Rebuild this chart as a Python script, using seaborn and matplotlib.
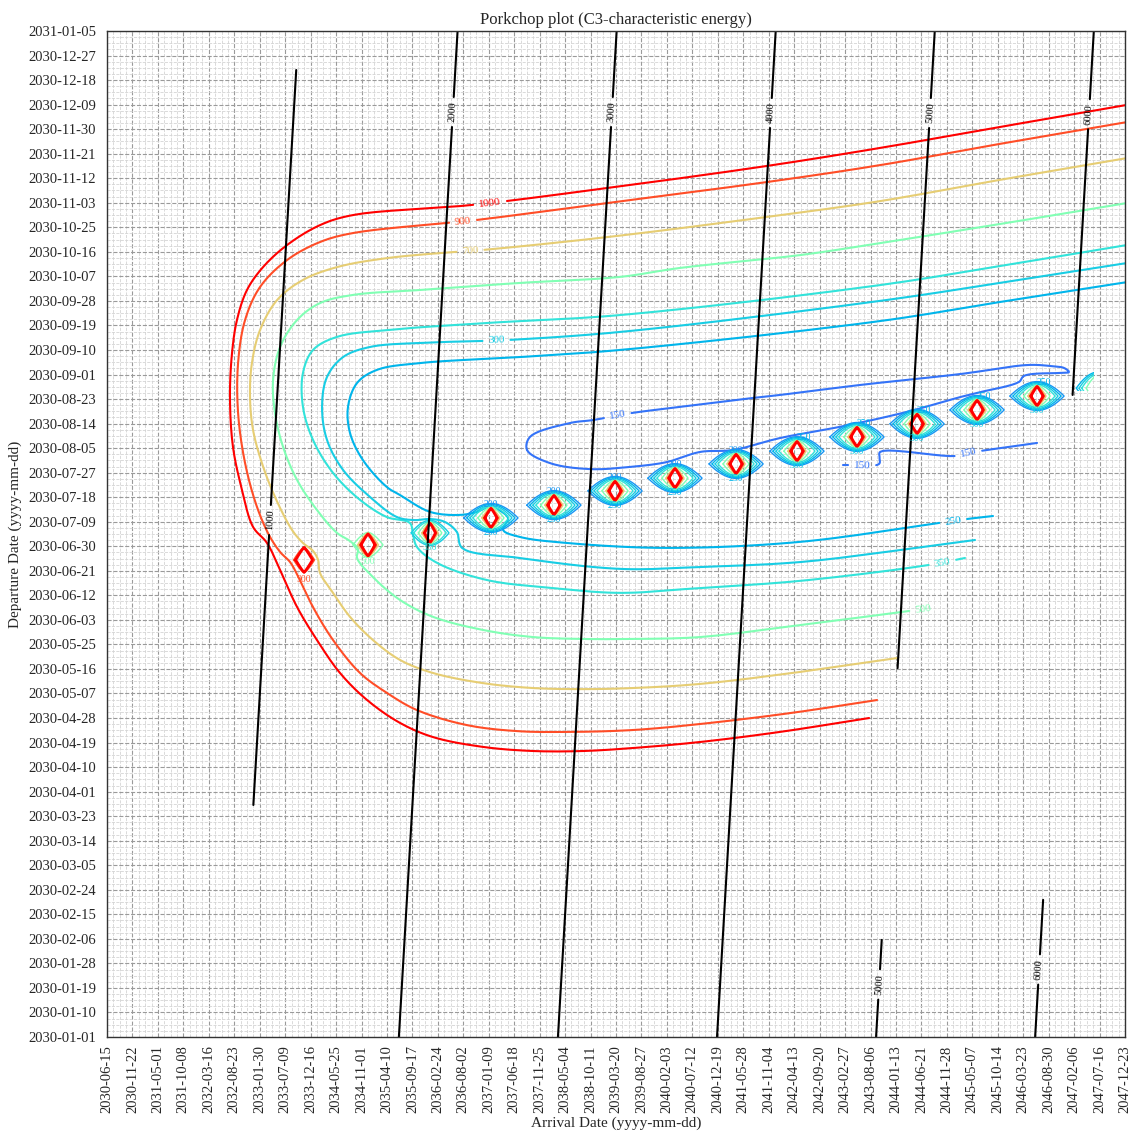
import numpy as np
import pandas as pd
import matplotlib
matplotlib.use("Agg")
import matplotlib.pyplot as plt
import seaborn as sns
from matplotlib.ticker import FixedLocator, FixedFormatter
from matplotlib.patches import Rectangle

# ---------------------------------------------------------------------------
# Data: all coordinates are in days since 2030-01-01
#   arrival  -> x axis, departure -> y axis
# ---------------------------------------------------------------------------
EPOCH = pd.Timestamp("2030-01-01")
ARRIVAL_TICKS = pd.date_range("2030-06-15", periods=41, freq="160D")
DEPARTURE_TICKS = pd.date_range("2030-01-01", periods=42, freq="9D")

# C3 contour lines (km^2/s^2)
C3_1000_ARR = [4956, 4396, 3893, 3472, 3158, 2843, 2529, 2215, 2007, 1800, 1630, 1485,
               1360, 1253, 1171, 1083, 1014, 957, 938, 951, 982, 1045, 1146, 1297,
               1504, 1712, 2460, 3309, 4314, 5025, 5779, 6578]
C3_1000_DEP = [117.0, 111.9, 108.2, 106.0, 104.9, 104.9, 106.4, 110.0, 115.2, 123.6, 133.5, 145.6,
               157.7, 171.3, 181.2, 187.1, 200.6, 216.4, 234.8, 250.9, 263.0, 274.0, 282.4, 290.5,
               297.8, 301.5, 305.2, 311.4, 319.5, 326.1, 333.8, 341.9]

C3_900_ARR = [5006, 4459, 3893, 3472, 3057, 2743, 2428, 2114, 1925, 1756, 1586, 1460,
              1378, 1316, 1259, 1190, 1108, 1033, 989, 989, 1033, 1127, 1297, 1504,
              1712, 2303, 2491, 3309, 4314, 5025, 5779, 6578]
C3_900_DEP = [123.6, 118.8, 114.8, 112.6, 111.9, 112.2, 114.4, 119.9, 126.2, 133.5, 145.6, 157.7,
              167.6, 174.2, 177.5, 183.4, 194.4, 210.5, 228.9, 247.2, 263.0, 275.1, 285.0, 291.6,
              294.9, 298.6, 299.7, 305.9, 313.6, 319.8, 327.6, 335.6]

C3_700_ARR = [5132, 4522, 3893, 3472, 3158, 2843, 2529, 2215, 2007, 1837, 1693, 1586,
              1504, 1492, 1460, 1397, 1328, 1221, 1139, 1083, 1064, 1076, 1127, 1234,
              1397, 1611, 1925, 2340, 2529, 3309, 4314, 5025, 5779, 6578]
C3_700_DEP = [139.0, 133.9, 129.5, 128.0, 127.6, 128.0, 129.8, 133.5, 138.3, 145.6, 154.1, 162.9,
              170.2, 175.0, 178.3, 181.2, 186.0, 198.1, 210.5, 222.7, 234.8, 247.2, 259.3, 270.3,
              277.7, 282.4, 285.7, 287.9, 288.7, 293.4, 300.8, 306.6, 314.4, 322.4]

C3_500_ARR = [5383, 5213, 4522, 3893, 3472, 3158, 2843, 2529, 2215, 2007, 1837, 1737,
              1743, 1693, 1611, 1485, 1360, 1272, 1221, 1209, 1253, 1360, 1504, 1712,
              2133, 2762, 3390, 3768, 4522, 5025, 5779, 6578]
C3_500_DEP = [157.7, 156.3, 151.1, 146.7, 146.0, 146.0, 146.7, 149.3, 154.1, 160.3, 168.7, 175.7,
              179.0, 181.9, 184.9, 193.3, 204.3, 216.4, 228.9, 241.0, 253.1, 263.0, 269.2, 272.2,
              274.0, 276.6, 278.8, 282.1, 286.8, 291.2, 298.2, 305.9]

C3_350_ARR = [5559, 5327, 4522, 3893, 3390, 2969, 2554, 2240, 2114, 2089, 2070, 1925,
              1756, 1586, 1460, 1397, 1397, 1460, 1611, 1925, 2554, 3390, 5025, 5779, 6578]
C3_350_DEP = [175.7, 173.1, 167.3, 164.7, 162.9, 164.7, 167.6, 173.9, 179.7, 184.1, 188.5, 190.7,
              197.0, 206.9, 219.0, 231.1, 243.6, 252.0, 256.8, 259.3, 261.9, 264.8, 275.8, 282.8, 290.5]

C3_300_ARR = [5622, 5151, 4522, 3893, 3390, 2762, 2397, 2365, 2290, 2196, 2101, 1988,
              1818, 1649, 1548, 1517, 1548, 1649, 1818, 2133, 2523, 2699, 3390, 5025, 5779, 6578]
C3_300_DEP = [182.3, 178.6, 174.2, 172.4, 171.7, 175.7, 179.4, 185.2, 188.9, 190.0, 189.6, 190.7,
              198.1, 208.0, 219.0, 231.1, 242.1, 249.4, 253.1, 254.6, 255.3, 255.7, 258.6, 270.0, 276.6, 283.9]

C3_250_ARR = [5735, 5572, 5390, 4522, 3686, 3057, 2762, 2655, 2686, 2573, 2491, 2384,
              2196, 2007, 1925, 1774, 1693, 1680, 1737, 1862, 2133, 2762, 3390, 5025, 5779, 6578]
C3_250_DEP = [191.1, 190.0, 188.5, 181.6, 179.4, 181.2, 183.4, 186.0, 190.4, 194.4, 192.6, 191.5,
              192.6, 198.8, 201.7, 211.6, 221.5, 231.1, 239.9, 244.7, 247.2, 249.4, 252.0, 262.6, 269.6, 276.9]

C3_150_ARR = [2806, 2824, 3076, 3220, 3466, 3768, 4226, 4396, 4905, 5534, 5955, 6100,
              6182, 6213, 6163, 5930, 5899, 5660, 5534, 5195, 4798, 4396, 4101, 3893,
              3686, 3453, 3202, 2950, 2806]
C3_150_DEP = [215.3, 220.1, 225.2, 226.3, 228.9, 231.1, 234.4, 235.5, 239.2, 243.2, 246.5, 246.1,
              245.4, 243.9, 243.6, 242.5, 240.3, 236.6, 234.8, 229.3, 224.1, 219.7, 215.3, 214.6,
              210.9, 209.1, 208.3, 210.5, 215.3]

C3_150B_ARR = [4792, 5019, 5022, 5025, 5496, 5578, 6012]
C3_150B_DEP = [209.8, 210.2, 212.5, 214.6, 213.1, 214.2, 217.9]

# (level, arrival array, departure array, label positions)
C3_LINES = [
    (1000, C3_1000_ARR, C3_1000_DEP, [(2573, 305.5)]),
    (900, C3_900_ARR, C3_900_DEP, [(2403, 299.3)]),
    (700, C3_700_ARR, C3_700_DEP, [(2447, 288.7)]),
    (500, C3_500_ARR, C3_500_DEP, [(5295, 157.4)]),
    (350, C3_350_ARR, C3_350_DEP, [(5415, 174.2)]),
    (300, C3_300_ARR, C3_300_DEP, [(2611, 255.7)]),
    (250, C3_250_ARR, C3_250_DEP, [(5484, 189.3)]),
    (150, C3_150_ARR, C3_150_DEP, [(3378, 227.4)]),
    (150, C3_150B_ARR, C3_150B_DEP, [(4912, 210.2), (5578, 214.2)]),
]

# Local C3 maxima ("eyes") along the minimum-energy valley
EYE_ARR = [1404, 1806, 2196, 2579, 2975, 3359, 3736, 4120, 4503, 4880, 5258, 5635, 6012, 6395]
EYE_DEP = [175.0, 180.5, 184.9, 190.4, 195.1, 200.3, 205.0, 210.2, 214.9, 220.1, 224.9, 230.0, 235.1, 238.0]
EYE_MIN_LEVEL = [900, 500, 300, 200, 200, 200, 200, 200, 200, 200, 200, 200, 200, 250]
EYE_MAX_LEVEL = [1000, 1000, 1000, 1000, 1000, 1000, 1000, 1000, 1000, 1000, 1000, 1000, 1000, 500]
EYE_WIDTH_SCALE = [1.4, 1.15, 0.9, 1, 1, 1, 1, 1, 1, 1, 1, 1, 1, 0.9]
EYE_HEIGHT_SCALE = [1.3, 1.15, 1.0, 1, 1, 1, 1, 1, 1, 1, 1, 1, 1, 1.2]
EYE_TOP_LABEL = [0, 0, 0, 200, 200, 200, 200, 200, 250, 250, 250, 250, 250, 0]
EYE_BOTTOM_LABEL = [900, 500, 350, 250, 250, 250, 250, 250, 300, 300, 300, 300, 300, 0]
# ring sizes of a single eye: half width / half height in days
EYE_LEVELS = [200, 250, 300, 350, 500, 700, 900, 1000]
EYE_HALF_WIDTH = [170, 151, 132, 113, 82, 57, 47, 38]
EYE_HALF_HEIGHT = [5.3, 4.95, 4.6, 4.2, 4.0, 3.85, 3.65, 3.5]

# Time of flight lines (days) and departure spans where the solution exists
TOF_LEVELS = [1000, 2000, 3000, 4000, 5000, 5000, 6000, 6000]
TOF_DEP_FROM = [85.1, 0, 0, 0, 135.3, 0, 235.5, 0]
TOF_DEP_TO = [354.7, 369, 369, 369, 369, 35.6, 369, 50.3]
TOF_LABEL_DEP = [189.6, 339.3, 339.3, 338.9, 339.0, 19.4, 338.6, 24.6]

# ---------------------------------------------------------------------------
sns.set_theme(style="white")
plt.rcParams["font.family"] = ["Liberation Serif", "DejaVu Serif"]

DPI = 100
fig = plt.figure(figsize=(11.32, 11.35), dpi=DPI)
ax = fig.add_axes([107 / 1132, 1 - 1037 / 1135, 1018 / 1132, 1006 / 1135])

x_ticks = [(t - EPOCH).days for t in ARRIVAL_TICKS]
y_ticks = [(t - EPOCH).days for t in DEPARTURE_TICKS]
ax.set_xlim(x_ticks[0], x_ticks[-1])
ax.set_ylim(y_ticks[0], y_ticks[-1])

ax.xaxis.set_major_locator(FixedLocator(x_ticks))
ax.xaxis.set_major_formatter(FixedFormatter([t.strftime("%Y-%m-%d") for t in ARRIVAL_TICKS]))
ax.yaxis.set_major_locator(FixedLocator(y_ticks))
ax.yaxis.set_major_formatter(FixedFormatter([t.strftime("%Y-%m-%d") for t in DEPARTURE_TICKS]))
ax.xaxis.set_minor_locator(FixedLocator(np.arange(x_ticks[0], x_ticks[-1], 40)))
ax.yaxis.set_minor_locator(FixedLocator(np.arange(y_ticks[0], y_ticks[-1], 2.25)))
ax.tick_params(axis="x", which="major", labelrotation=90, labelsize=10.5, length=0, pad=6)
ax.tick_params(axis="y", which="major", labelsize=10.5, length=0, pad=8)
ax.tick_params(which="minor", length=0)
ax.grid(which="major", color="#9a9a9a", linestyle="--", linewidth=0.8)
ax.grid(which="minor", color="#d4d4d4", linestyle="--", linewidth=0.6)
ax.set_axisbelow(True)
for sp in ax.spines.values():
    sp.set_color("#333333")
    sp.set_linewidth(1.0)

ax.set_title("Porkchop plot (C3-characteristic energy)", fontsize=12, pad=5)
ax.set_xlabel("Arrival Date (yyyy-mm-dd)", fontsize=11, labelpad=2)
ax.set_ylabel("Departure Date (yyyy-mm-dd)", fontsize=11, labelpad=4)

cmap = plt.get_cmap("rainbow")
norm = matplotlib.colors.Normalize(vmin=0, vmax=1000)


def smooth_path(P, per_seg=10):
    """Centripetal Catmull-Rom curve through display-space points."""
    n = len(P)
    if n < 3:
        return P
    closed = np.allclose(P[0], P[-1])
    if closed:
        ext = np.vstack([P[-2], P, P[1]])
    else:
        ext = np.vstack([2 * P[0] - P[1], P, 2 * P[-1] - P[-2]])
    out = []
    for i in range(1, n):
        p0, p1, p2, p3 = ext[i - 1], ext[i], ext[i + 1], ext[i + 2]
        t0 = 0.0
        t1 = t0 + max(np.linalg.norm(p1 - p0), 1e-6) ** 0.5
        t2 = t1 + max(np.linalg.norm(p2 - p1), 1e-6) ** 0.5
        t3 = t2 + max(np.linalg.norm(p3 - p2), 1e-6) ** 0.5
        tt = np.linspace(t1, t2, per_seg, endpoint=False)[:, None]
        a1 = (t1 - tt) / (t1 - t0) * p0 + (tt - t0) / (t1 - t0) * p1
        a2 = (t2 - tt) / (t2 - t1) * p1 + (tt - t1) / (t2 - t1) * p2
        a3 = (t3 - tt) / (t3 - t2) * p2 + (tt - t2) / (t3 - t2) * p3
        b1 = (t2 - tt) / (t2 - t0) * a1 + (tt - t0) / (t2 - t0) * a2
        b2 = (t3 - tt) / (t3 - t1) * a2 + (tt - t1) / (t3 - t1) * a3
        out.append((t2 - tt) / (t2 - t1) * b1 + (tt - t1) / (t2 - t1) * b2)
    out.append(P[-1][None, :])
    return np.vstack(out)


def draw_line(xs, ys, color, lw, text=None, labels=(), fs=8, pad=5):
    """Plot a smoothed polyline, cutting a gap for each inline label."""
    P = ax.transData.transform(np.column_stack([np.asarray(xs, float), np.asarray(ys, float)]))
    P = smooth_path(P)
    seg = np.hypot(*np.diff(P, axis=0).T)
    s = np.r_[0, np.cumsum(seg)]
    n = max(int(s[-1]), 2)
    ss = np.linspace(0, s[-1], n)
    px = np.interp(ss, s, P[:, 0])
    py = np.interp(ss, s, P[:, 1])
    D = ax.transData.inverted().transform(np.column_stack([px, py]))
    keep = np.ones(n, bool)
    half = 0.5 * len(text) * 0.5 * fs * DPI / 72 + pad if text else 0
    spots = []
    for at in labels:
        L = ax.transData.transform([at])[0]
        i0 = int(np.argmin(np.hypot(px - L[0], py - L[1])))
        keep &= np.abs(ss - ss[i0]) > half
        spots.append(i0)
    idx = np.where(keep)[0]
    for run in np.split(idx, np.where(np.diff(idx) > 1)[0] + 1):
        if len(run) > 1:
            sns.lineplot(x=D[run, 0], y=D[run, 1], sort=False, estimator=None,
                         color=color, lw=lw, ax=ax)
    for i0 in spots:
        j1, j2 = max(i0 - 8, 0), min(i0 + 8, n - 1)
        ang = np.degrees(np.arctan2(py[j2] - py[j1], px[j2] - px[j1]))
        if ang > 90:
            ang -= 180
        elif ang < -90:
            ang += 180
        ax.text(D[i0, 0], D[i0, 1], text, rotation=ang, rotation_mode="anchor",
                ha="center", va="center", color=color, fontsize=fs)


# main C3 contours
for level, arr, dep, labs in C3_LINES:
    draw_line(arr, dep, cmap(norm(level)), 1.5, str(level), labs)

# eyes: nested rings around each local maximum
t = np.linspace(-1, 1, 61)
edge_clip = Rectangle((6200, 237.0), 168, 15, transform=ax.transData)
for i in range(len(EYE_ARR)):
    for lev, hw, hh in zip(EYE_LEVELS, EYE_HALF_WIDTH, EYE_HALF_HEIGHT):
        if lev < EYE_MIN_LEVEL[i] or lev > EYE_MAX_LEVEL[i]:
            continue
        q = {1000: 1.15, 900: 1.3, 700: 1.4, 500: 1.6}.get(lev, 1.9)
        w = hw * EYE_WIDTH_SCALE[i]
        h = hh * EYE_HEIGHT_SCALE[i]
        top = h * (1 - np.abs(t) ** q)
        xs = EYE_ARR[i] + np.r_[t, t[::-1]] * w
        ys = EYE_DEP[i] + np.r_[top, -top[::-1]]
        ln, = ax.plot(xs, ys, color=cmap(norm(lev)), lw=2.0 if lev == 1000 else 1.0)
        if EYE_MAX_LEVEL[i] < 1000:
            ln.set_clip_path(edge_clip)
    if EYE_TOP_LABEL[i]:
        dx = 0 if EYE_TOP_LABEL[i] == 200 else 45
        ax.text(EYE_ARR[i] + dx, EYE_DEP[i] + 4.9, str(EYE_TOP_LABEL[i]), fontsize=7,
                color=cmap(norm(EYE_TOP_LABEL[i])), ha="center", va="center")
    if EYE_BOTTOM_LABEL[i]:
        ax.text(EYE_ARR[i], EYE_DEP[i] - 5.4 * EYE_HEIGHT_SCALE[i], str(EYE_BOTTOM_LABEL[i]),
                fontsize=7, color=cmap(norm(EYE_BOTTOM_LABEL[i])), ha="center", va="center")

# time-of-flight lines
for tof, d0, d1, dl in zip(TOF_LEVELS, TOF_DEP_FROM, TOF_DEP_TO, TOF_LABEL_DEP):
    dep = np.array([d0, d1])
    draw_line(dep + tof, dep, "black", 1.5, str(tof), [(dl + tof, dl)], fs=7.5, pad=4)

fig.savefig("out.png", dpi=DPI)
